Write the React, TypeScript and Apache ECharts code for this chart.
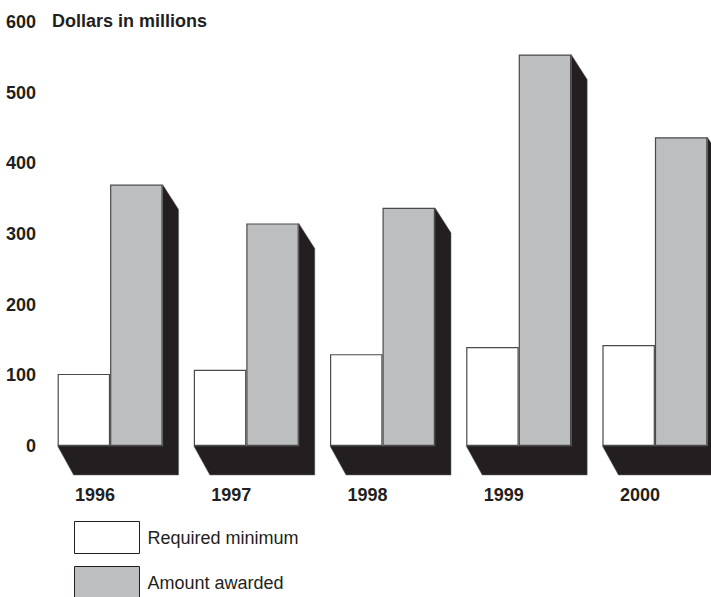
import React, { useEffect, useRef } from "react";
import * as echarts from "echarts";

const years = ["1996", "1997", "1998", "1999", "2000"];
const requiredMinimum = [102, 108, 130, 140, 143];
const amountAwarded = [370, 315, 337, 554, 437];
const yTicks = [0, 100, 200, 300, 400, 500, 600];
const seriesNames = ["Required minimum", "Amount awarded"];
const unitLabel = "Dollars in millions";

const FONT = "'Liberation Sans', Arial, Helvetica, sans-serif";
const TEXT = "#231f20";
const GREY = "#bcbec0";
const SHADOW = "#231f20";
const EDGE = "#4a4a4a";
const BAR_W = 52.5;

export default function App() {
  const ref = useRef<HTMLDivElement>(null);
  useEffect(() => {
    if (!ref.current) return;
    const chart = echarts.init(ref.current, undefined, { renderer: "svg" });
    const shadowData = amountAwarded.map((v, i) => [i, v]);
    const legendBase = {
      orient: "vertical",
      left: 74,
      padding: 0,
      itemWidth: 65,
      itemHeight: 32,
      icon: "rect",
      textStyle: { fontFamily: FONT, fontSize: 18, color: TEXT, padding: [0, 0, 0, 3] },
    };
    chart.setOption({
      animation: false,
      backgroundColor: "#ffffff",
      title: {
        text: unitLabel,
        left: 52,
        top: 12,
        padding: 0,
        textStyle: { fontFamily: FONT, fontSize: 18, fontWeight: "bold", color: TEXT },
      },
      grid: { left: 42, right: 0, top: 22, bottom: 151, containLabel: false },
      legend: [
        {
          ...legendBase,
          top: 521,
          data: [{ name: seriesNames[0], itemStyle: { color: "#ffffff", borderColor: TEXT, borderWidth: 1 } }],
        },
        {
          ...legendBase,
          top: 566,
          data: [{ name: seriesNames[1], itemStyle: { color: GREY, borderColor: TEXT, borderWidth: 1 } }],
        },
      ],
      xAxis: {
        type: "category",
        data: years,
        axisLine: { show: false },
        axisTick: { show: false },
        axisLabel: {
          margin: 40,
          fontFamily: FONT,
          fontSize: 18,
          fontWeight: "bold",
          color: TEXT,
          padding: [0, 30, 0, 0],
        },
      },
      yAxis: {
        type: "value",
        min: yTicks[0],
        max: yTicks[yTicks.length - 1],
        interval: 100,
        splitLine: { show: false },
        axisLine: { show: false },
        axisTick: { show: false },
        axisLabel: {
          margin: 6,
          fontFamily: FONT,
          fontSize: 18,
          fontWeight: "bold",
          color: TEXT,
        },
      },
      series: [
        {
          type: "custom",
          name: "shadow",
          z: 1,
          silent: true,
          data: shadowData,
          encode: { x: 0, y: 1 },
          renderItem: (params: any, api: any) => {
            const idx = api.value(0);
            const val = api.value(1);
            const base = api.coord([idx, 0]);
            const top = api.coord([idx, val]);
            const xL = base[0] - BAR_W;
            const xR = base[0] + BAR_W;
            const y0 = base[1];
            const yT = top[1];
            return {
              type: "polygon",
              shape: {
                points: [
                  [xL, y0],
                  [xL + 16, y0 + 29],
                  [xR + 16, y0 + 29],
                  [xR + 16, yT + 25],
                  [xR, yT],
                  [xR, y0],
                ],
              },
              style: { fill: SHADOW, stroke: "#666", lineWidth: 0.5 },
            };
          },
        },
        {
          type: "bar",
          name: seriesNames[0],
          z: 2,
          data: requiredMinimum,
          barWidth: BAR_W,
          barGap: "0%",
          itemStyle: { color: "#ffffff", borderColor: EDGE, borderWidth: 1.2 },
        },
        {
          type: "bar",
          name: seriesNames[1],
          z: 2,
          data: amountAwarded,
          barWidth: BAR_W,
          barGap: "0%",
          itemStyle: { color: GREY, borderColor: EDGE, borderWidth: 1.2 },
        },
      ],
    });
    return () => chart.dispose();
  }, []);
  return (
    <div style={{ width: 711, height: 597, position: "absolute", left: 0, top: 0, overflow: "hidden" }}>
      <div ref={ref} style={{ width: 723, height: 597 }} />
    </div>
  );
}
